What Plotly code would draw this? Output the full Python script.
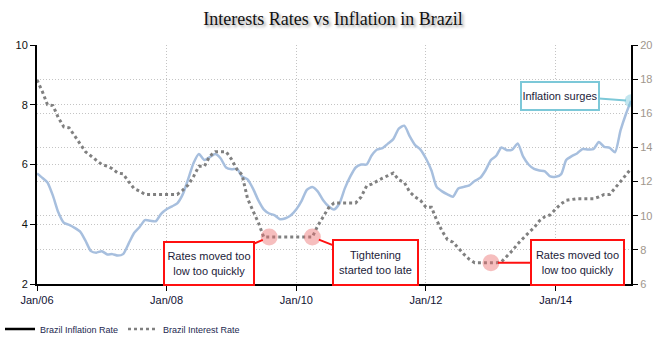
import pandas as pd
import plotly.graph_objects as go

dates = pd.date_range("2006-01-01", periods=111, freq="MS")

inflation = [
    5.70, 5.55, 5.40, 4.95, 4.40, 4.05, 3.98, 3.88, 3.75, 3.45, 3.10, 3.05,
    3.10, 2.99, 3.00, 2.95, 3.00, 3.35, 3.70, 3.90, 4.14, 4.12, 4.10, 4.35,
    4.50, 4.60, 4.70, 5.00, 5.50, 6.05, 6.35, 6.15, 6.25, 6.35, 6.20, 5.90,
    5.84, 5.85, 5.60, 5.50, 5.20, 4.80, 4.50, 4.36, 4.30, 4.17, 4.20, 4.30,
    4.50, 4.80, 5.15, 5.25, 5.10, 4.80, 4.60, 4.49, 4.70, 5.20, 5.60, 5.90,
    6.00, 6.00, 6.30, 6.50, 6.55, 6.70, 6.85, 7.20, 7.30, 6.95, 6.65, 6.50,
    6.20, 5.80, 5.25, 5.10, 5.00, 4.92, 5.20, 5.25, 5.30, 5.45, 5.55, 5.80,
    6.15, 6.30, 6.57, 6.48, 6.50, 6.70, 6.27, 6.00, 5.85, 5.80, 5.77, 5.60,
    5.59, 5.68, 6.15, 6.28, 6.37, 6.52, 6.50, 6.51, 6.75, 6.59, 6.56, 6.41,
    7.14, 7.70, 8.13,
]

interest = [
    17.95, 17.25, 16.50, 16.45, 15.75, 15.20, 15.15, 14.70, 14.25, 13.75, 13.50, 13.25,
    13.00, 12.90, 12.75, 12.50, 12.45, 12.00, 11.60, 11.45, 11.25, 11.25, 11.25, 11.25,
    11.25, 11.25, 11.25, 11.50, 11.80, 12.30, 12.90, 12.90, 13.50, 13.75, 13.75, 13.75,
    13.30, 12.70, 12.40, 11.00, 10.30, 9.60, 8.75, 8.75, 8.75, 8.75, 8.75, 8.75,
    8.75, 8.75, 8.75, 8.75, 9.40, 9.90, 10.45, 10.75, 10.75, 10.75, 10.75, 10.75,
    11.10, 11.75, 11.85, 12.05, 12.20, 12.35, 12.50, 12.10, 11.95, 11.40, 11.10, 10.90,
    10.50, 10.50, 9.75, 9.10, 8.60, 8.45, 8.10, 7.75, 7.45, 7.25, 7.25, 7.25,
    7.25, 7.25, 7.30, 7.60, 7.95, 8.35, 8.70, 9.00, 9.30, 9.70, 9.95, 10.05,
    10.40, 10.70, 10.90, 10.95, 11.00, 11.00, 11.00, 11.00, 11.10, 11.25, 11.25, 11.60,
    12.00, 12.40, 12.75,
]

series_names = ["Brazil Inflation Rate", "Brazil Interest Rate"]
title_text = "Interests Rates vs Inflation in Brazil"
left_ticks = [2, 4, 6, 8, 10]
right_ticks = [6, 8, 10, 12, 14, 16, 18, 20]

# highlighted points (index into dates)
callout_idx = [43, 51, 84]
callout_text = ["Rates moved too<br>low too quickly", "Tightening<br>started too late",
                "Rates moved too<br>low too quickly"]
surge_idx = 110
surge_text = "Inflation surges"

infl_color = "#a7bfde"
rate_color = "#808080"
grid_color = "#c4c4c4"
grid_dash = "1px,2px"

fig = go.Figure()
fig.add_trace(go.Scatter(x=dates, y=inflation, mode="lines", name=series_names[0],
                         line=dict(color=infl_color, width=2.5, shape="spline", smoothing=0.6),
                         showlegend=False, yaxis="y"))
fig.add_trace(go.Scatter(x=dates, y=interest, mode="lines", name=series_names[1],
                         line=dict(color=rate_color, width=3, dash="dot"),
                         showlegend=False, yaxis="y2"))
# highlight circles
fig.add_trace(go.Scatter(x=[dates[i] for i in callout_idx], y=[interest[i] for i in callout_idx],
                         mode="markers", marker=dict(size=17, color="rgba(236,110,110,0.45)"),
                         showlegend=False, yaxis="y2", hoverinfo="skip"))
fig.add_trace(go.Scatter(x=[dates[surge_idx]], y=[inflation[surge_idx]], mode="markers",
                         marker=dict(size=13, color="rgba(120,200,220,0.45)"),
                         showlegend=False, yaxis="y", hoverinfo="skip"))
# legend entries
fig.add_trace(go.Scatter(x=[None], y=[None], mode="lines", name=series_names[0],
                         line=dict(color="black", width=2.5)))
fig.add_trace(go.Scatter(x=[None], y=[None], mode="lines", name=series_names[1],
                         line=dict(color=rate_color, width=2.5, dash="dot")))

annotations = []
offsets = [(-60, 26), (63, 25), (87, 0)]
sizes = [(86, 39), (81, 41), (89, 41)]
for i, t, (ax, ay), (w, h) in zip(callout_idx, callout_text, offsets, sizes):
    annotations.append(dict(
        x=dates[i], y=interest[i], xref="x", yref="y2", text=t, showarrow=True,
        ax=ax, ay=ay, arrowhead=0, arrowwidth=2, arrowcolor="#ff1010", standoff=7,
        bordercolor="#ff1010", borderwidth=2, borderpad=1, bgcolor="white",
        width=w, height=h, font=dict(family="Liberation Sans, Arial", size=11, color="#1c1c3a"),
    ))
annotations.append(dict(
    x=dates[surge_idx], y=inflation[surge_idx], xref="x", yref="y", text=surge_text,
    showarrow=True, ax=-71, ay=-5, arrowhead=0, arrowwidth=2, arrowcolor="#7cc8d8",
    standoff=5, bordercolor="#7cc8d8", borderwidth=2, borderpad=1, bgcolor="white",
    width=74, height=24, font=dict(family="Liberation Sans, Arial", size=11, color="#1c1c3a"),
))

fig.update_layout(
    width=662, height=342,
    margin=dict(l=37, r=31, t=45, b=58, autoexpand=False),
    paper_bgcolor="white", plot_bgcolor="white",
    title=dict(text=title_text, x=0.503, xanchor="center", y=0.945, yanchor="middle",
               font=dict(family="Liberation Serif, Times New Roman, serif", size=18, color="#111111",
                         shadow="2px 2px 3px #999999")),
    xaxis=dict(range=[dates[0], dates[-1]], tickformat="%b/%y", dtick="M24", tick0="2006-01-01",
               showgrid=True, gridcolor=grid_color, griddash=grid_dash, gridwidth=1,
               showline=True, linecolor="black", linewidth=2, ticks="outside", ticklen=5,
               tickcolor="black", tickfont=dict(family="Liberation Sans, Arial", size=11, color="#111133"),
               zeroline=False, automargin=False),
    yaxis=dict(range=[2, 10], tickvals=left_ticks, showgrid=True, gridcolor=grid_color,
               griddash=grid_dash, showline=True, linecolor="black", linewidth=2, ticks="outside",
               ticklen=5, tickcolor="black", zeroline=False, automargin=False,
               tickfont=dict(family="Liberation Sans, Arial", size=11, color="#111111")),
    yaxis2=dict(range=[6, 20], tickvals=right_ticks, overlaying="y", side="right",
                showgrid=True, gridcolor=grid_color, griddash=grid_dash, showline=True,
                linecolor="black", linewidth=2, ticks="outside", ticklen=5, tickcolor="black",
                zeroline=False, automargin=False,
                tickfont=dict(family="Liberation Sans, Arial", size=11, color="#a0968c")),
    legend=dict(orientation="h", xref="container", yref="container", x=0.0, xanchor="left",
                y=1 - 329 / 342, yanchor="middle",
                font=dict(family="Liberation Sans, Arial", size=9, color="#1c2850"),
                entrywidth=78, entrywidthmode="pixels", bgcolor="rgba(0,0,0,0)"),
    annotations=annotations,
    showlegend=True,
)

fig.write_html("out.html")
